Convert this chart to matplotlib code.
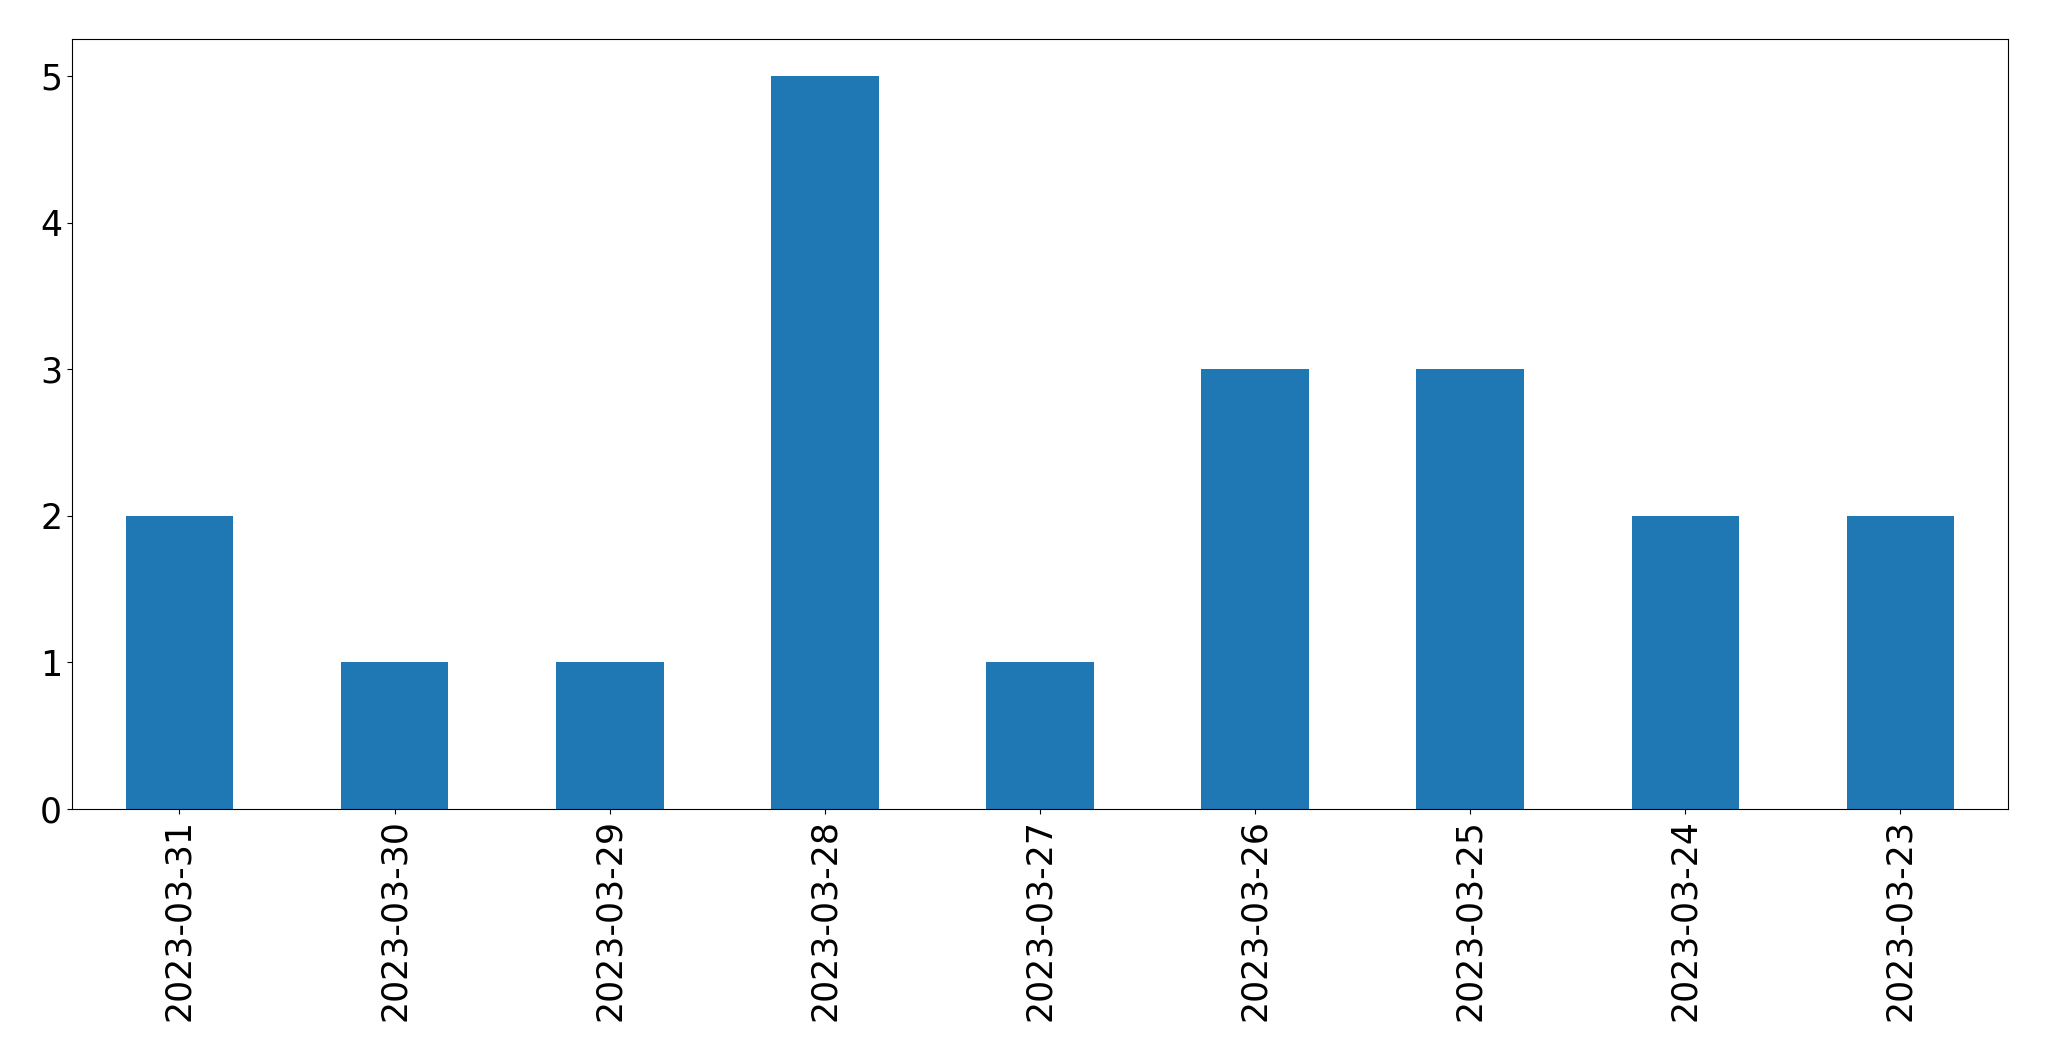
import matplotlib
matplotlib.use("Agg")
import matplotlib.pyplot as plt
import pandas as pd

# counts per day (newest first, as in the source)
dates = ["2023-03-31", "2023-03-30", "2023-03-29", "2023-03-28", "2023-03-27",
         "2023-03-26", "2023-03-25", "2023-03-24", "2023-03-23"]
counts = [2, 1, 1, 5, 1, 3, 3, 2, 2]

s = pd.Series(counts, index=dates)

fig, ax = plt.subplots(figsize=(20.49, 10.61), dpi=100)
s.plot(kind="bar", ax=ax, color="#1f77b4", fontsize=25)

fig.subplots_adjust(left=0.0351, right=0.980, top=0.963, bottom=0.2375)
fig.savefig("out.png", dpi=100)
